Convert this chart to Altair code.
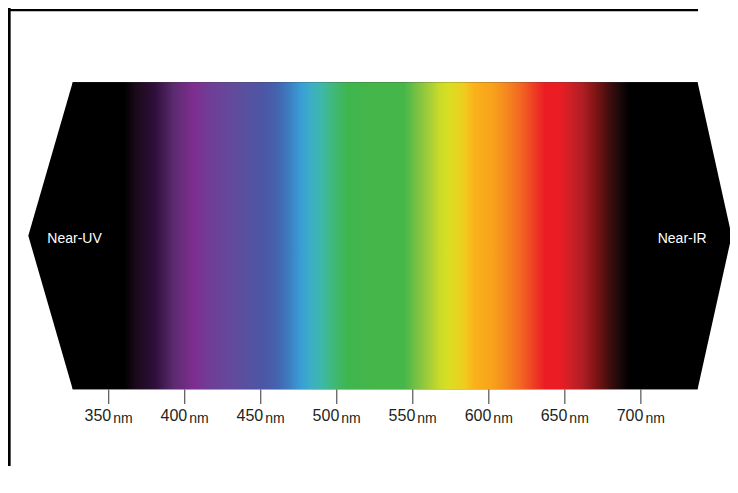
import altair as alt
import pandas as pd

# ---- data -------------------------------------------------------------
tick_nm = [350, 400, 450, 500, 550, 600, 650, 700]
tick_labels = ["350", "400", "450", "500", "550", "600", "650", "700"]

# black hexagon outline (nm along x, relative height 0..1)
hex_nm = [297.1, 326.3, 737.3, 759.7]
hex_top = [0.5, 1.0, 1.0, 0.5]
hex_bot = [0.5, 0.0, 0.0, 0.5]

# spectrum band and colour stops (wavelength -> colour)
band_start, band_end = 326.3, 737.3
stop_nm = [326.3, 360.0, 367.9, 380.4, 392.9, 405.4, 417.3, 429.7, 439.0, 451.5,
           460.7, 468.6, 475.8, 482.4, 490.3, 497.6, 506.8, 525.9, 544.3, 550.2,
           559.4, 567.3, 573.2, 584.4, 590.4, 602.9, 612.1, 621.3, 630.5, 637.1,
           646.3, 652.2, 661.5, 670.7, 679.9, 686.5, 692.4, 737.3]
stop_colors = ["#000000", "#000000", "#1a0a1a", "#2f0f3b", "#5b2b70", "#7e2d8f",
               "#6e3f96", "#65489b", "#5a4f9f", "#4d56a6", "#4463ae", "#3d7dc0",
               "#3a9bd5", "#3cadc8", "#3eb8a8", "#40b87a", "#3fb54f", "#45b649",
               "#45b649", "#6bbe45", "#9ccb3b", "#c9da2a", "#d8df23", "#f0cb1e",
               "#fbb11a", "#f7a11c", "#f5861f", "#f26522", "#ee3a24", "#ec1c24",
               "#ec1c24", "#d41f26", "#b01e24", "#7c1414", "#3d0d0d", "#1a0808",
               "#000000", "#000000"]

side_labels = ["Near-UV", "Near-IR"]
side_nm = [309.6, 743.3]

# page frame (left and top edges of the surrounding box), in the same units
frame_x = [284.6, 283.7]
frame_x2 = [284.6, 737.6]
frame_y = [1.245, 1.235]
frame_y2 = [-0.25, 1.235]
frame_w = [2.7, 2.3]

# ---- chart --------------------------------------------------------------
W, H = 722, 474
FONT = "Liberation Sans"
xs = alt.Scale(domain=[350, 700], range=[100.74, 632.88])
ys = alt.Scale(domain=[0, 1], range=[381.3, 74.3])

hex_df = pd.DataFrame({"nm": hex_nm, "top": hex_top, "bot": hex_bot})
hexagon = alt.Chart(hex_df).mark_area(color="black", orient="vertical", interpolate="linear").encode(
    x=alt.X("nm:Q", scale=xs, axis=None),
    y=alt.Y("top:Q", scale=ys, axis=None),
    y2="bot:Q",
)

stops = [alt.GradientStop(color=c, offset=(n - band_start) / (band_end - band_start))
         for n, c in zip(stop_nm, stop_colors)]
band_df = pd.DataFrame({"x0": [band_start], "x1": [band_end], "y0": [1.0], "y1": [0.0]})
band = alt.Chart(band_df).mark_rect(
    color=alt.Gradient(gradient="linear", stops=stops, x1=0, x2=1, y1=0, y2=0),
    strokeWidth=0,
).encode(
    x=alt.X("x0:Q", scale=xs, axis=None), x2="x1:Q",
    y=alt.Y("y0:Q", scale=ys, axis=None), y2="y1:Q",
)

tick_df = pd.DataFrame({"nm": tick_nm, "label": tick_labels, "unit": ["nm"] * len(tick_nm)})
ticks = alt.Chart(tick_df).mark_rule(color="#333333", strokeWidth=1).encode(
    x=alt.X("nm:Q", scale=xs, axis=None),
    y=alt.value(381.5), y2=alt.value(396),
)
nums = alt.Chart(tick_df).mark_text(
    align="right", baseline="alphabetic", dx=2.5, fontSize=16, font=FONT, color="#231f20"
).encode(x=alt.X("nm:Q", scale=xs, axis=None), y=alt.value(413), text="label:N")
units = alt.Chart(tick_df).mark_text(
    align="left", baseline="alphabetic", dx=4.5, fontSize=14, font=FONT, color="#231f20"
).encode(x=alt.X("nm:Q", scale=xs, axis=None), y=alt.value(415), text="unit:N")

side_df = pd.DataFrame({"nm": side_nm, "label": side_labels})
left_lbl = alt.Chart(side_df.iloc[[0]]).mark_text(
    align="left", baseline="middle", dy=3, fontSize=14, font=FONT, color="white"
).encode(x=alt.X("nm:Q", scale=xs, axis=None), y=alt.value(227.8), text="label:N")
right_lbl = alt.Chart(side_df.iloc[[1]]).mark_text(
    align="right", baseline="middle", dy=3, fontSize=14, font=FONT, color="white"
).encode(x=alt.X("nm:Q", scale=xs, axis=None), y=alt.value(227.8), text="label:N")

frame_df = pd.DataFrame({"x": frame_x, "x2": frame_x2, "y": frame_y, "y2": frame_y2, "w": frame_w})
frame = alt.Chart(frame_df).mark_rule(color="black").encode(
    x=alt.X("x:Q", scale=xs, axis=None), x2="x2:Q",
    y=alt.Y("y:Q", scale=ys, axis=None), y2="y2:Q",
    strokeWidth=alt.StrokeWidth("w:Q", scale=None, legend=None),
)

chart = alt.layer(
    hexagon, band, ticks, nums, units, left_lbl, right_lbl, frame
).properties(
    width=W, height=H, padding=0, autosize="none", background="white"
).configure_view(stroke=None)

chart.save("out.html", embed_options={"renderer": "svg", "actions": False})
